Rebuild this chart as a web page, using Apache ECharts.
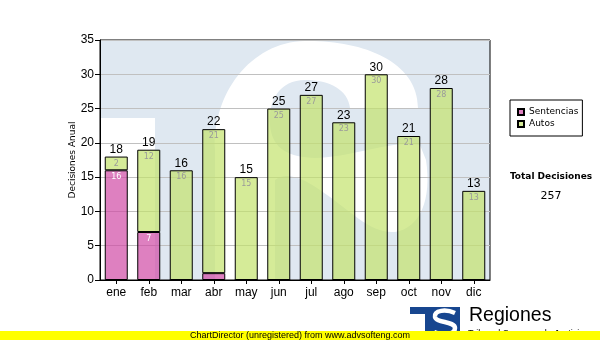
<!DOCTYPE html>
<html>
<head>
<meta charset="utf-8">
<script src="https://cdn.jsdelivr.net/npm/echarts@6/dist/echarts.min.js"></script>
<style>
  html, body { margin: 0; padding: 0; background: #fff; }
  #chart { width: 600px; height: 340px; }
</style>
</head>
<body>
<div id="chart"></div>
<script>
// Monthly decisions, stacked by type
const months = ['ene', 'feb', 'mar', 'abr', 'may', 'jun', 'jul', 'ago', 'sep', 'oct', 'nov', 'dic'];
const sentencias = [16, 7, 0, 1, 0, 0, 0, 0, 0, 0, 0, 0];
const autos = [2, 12, 16, 21, 15, 25, 27, 23, 30, 21, 28, 13];
const yMin = 0, yMax = 35, yStep = 5;
const seriesNames = ['Sentencias', 'Autos'];
const axisTitle = 'Decisiones Anual';
const totalTitle = 'Total Decisiones';
const footerText = 'ChartDirector (unregistered) from www.advsofteng.com';

const totals = months.map((_, i) => sentencias[i] + autos[i]);
const grandTotal = totals.reduce((a, b) => a + b, 0);

const SANS = '"Liberation Sans", Arial, sans-serif';
const VERD = '"DejaVu Sans", Verdana, sans-serif';

// custom path shapes for the watermark letter and the small logo letter
echarts.graphic.registerShape('wmLetter', echarts.graphic.extendPath(
  'M 215 280 L 215 150 C 212 95 250 42 305 41 C 360 40 418 60 418 108 L 350 108 ' +
  'C 348 90 330 80 305 80 C 280 80 268 100 270 125 C 272 150 290 157 315 158 ' +
  'C 350 158 390 140 420 145 L 426 160 C 432 200 420 228 395 232 ' +
  'C 370 234 350 210 320 190 C 300 176 285 172 275 180 L 275 280 Z', {}));
echarts.graphic.registerShape('logoLetter', echarts.graphic.extendPath(
  'M 455 313 C 446 309 434 310 435 317 C 436 323 455 321 455 328 C 455 335 442 336 434 332', {}));

const chart = echarts.init(document.getElementById('chart'), null, { renderer: 'canvas' });

// faint logo watermark behind the plot
const watermark = [
  { type: 'rect', z: -10, silent: true, shape: { x: 100, y: 40, width: 390, height: 240 }, style: { fill: '#dfe8f1' } },
  { type: 'rect', z: -10, silent: true, shape: { x: 100, y: 118, width: 55, height: 162 }, style: { fill: '#ffffff' } },
  { type: 'wmLetter', z: -10, silent: true, style: { fill: '#ffffff' } }
];

// logo in the lower right corner
const logo = [
  { type: 'polygon', z: 50, silent: true,
    shape: { points: [[410, 307], [460, 307], [460, 340], [425, 340], [425, 314], [410, 314]] },
    style: { fill: '#17468f' } },
  { type: 'logoLetter', z: 51, silent: true,
    style: { fill: 'none', stroke: '#ffffff', lineWidth: 4.5 } },
  { type: 'text', z: 50, silent: true, x: 469, y: 316,
    style: { text: 'Regiones', font: '19.5px ' + SANS, fill: '#000', textVerticalAlign: 'middle' } },
  { type: 'text', z: 50, silent: true, x: 468, y: 329,
    style: { text: 'Tribunal Supremo de Justicia', font: '9px ' + SANS, fill: '#000', textVerticalAlign: 'top' } }
];

const extras = [
  { type: 'text', silent: true, x: 73, y: 160, rotation: Math.PI / 2,
    style: { text: axisTitle, font: '9px ' + VERD, fill: '#000', textAlign: 'center', textVerticalAlign: 'middle' } },
  { type: 'text', silent: true, x: 551, y: 177,
    style: { text: totalTitle, font: 'bold 9px ' + VERD, fill: '#000', textAlign: 'center', textVerticalAlign: 'middle' } },
  { type: 'text', silent: true, x: 551, y: 196,
    style: { text: String(grandTotal), font: '11px ' + VERD, fill: '#000', textAlign: 'center', textVerticalAlign: 'middle' } },
  { type: 'rect', z: 100, silent: true, shape: { x: 0, y: 331, width: 600, height: 9 }, style: { fill: '#ffff00' } },
  { type: 'text', z: 101, silent: true, x: 300, y: 335.5,
    style: { text: footerText, font: '9px ' + SANS, fill: '#000', textAlign: 'center', textVerticalAlign: 'middle' } }
];

const segLabel = (color) => ({
  show: true, position: 'insideTop', distance: 3,
  fontFamily: VERD, fontSize: 8, color: color,
  formatter: p => (p.value >= 2 ? String(p.value) : '')
});

chart.setOption({
  animation: false,
  backgroundColor: '#ffffff',
  grid: { left: 100, right: 110, top: 40, bottom: 60, show: true, borderColor: '#000', borderWidth: 1,
          backgroundColor: 'transparent', containLabel: false },
  legend: {
    data: seriesNames, orient: 'vertical', left: 510, top: 100,
    padding: [6, 4, 6, 7], itemGap: 0, itemWidth: 6, itemHeight: 6, icon: 'rect',
    borderColor: '#000', borderWidth: 1, borderRadius: 0, backgroundColor: '#fff',
    textStyle: { fontFamily: VERD, fontSize: 9, color: '#000', lineHeight: 12 }
  },
  xAxis: {
    type: 'category', data: months,
    axisLine: { lineStyle: { color: '#000', width: 1 } },
    axisTick: { show: true, alignWithLabel: true, length: 4, lineStyle: { color: '#000' } },
    axisLabel: { fontFamily: SANS, fontSize: 12, color: '#000', margin: 7 },
    splitLine: { show: false }
  },
  yAxis: {
    type: 'value', min: yMin, max: yMax, interval: yStep,
    axisLine: { show: true, lineStyle: { color: '#000', width: 1 } },
    axisTick: { show: true, length: 5, lineStyle: { color: '#000' } },
    axisLabel: { fontFamily: SANS, fontSize: 12, color: '#000', margin: 6 },
    splitLine: { show: true, lineStyle: { color: '#c0c0c0', width: 1 } }
  },
  series: [
    { name: seriesNames[0], type: 'bar', stack: 'decisiones', data: sentencias,
      barWidth: 23, barGap: '-100%',
      itemStyle: { color: 'rgba(208,74,165,0.7)', borderColor: '#000', borderWidth: 1 },
      label: segLabel('#ffffff') },
    { name: seriesNames[1], type: 'bar', stack: 'decisiones', data: autos,
      barWidth: 23, barGap: '-100%',
      itemStyle: { color: 'rgba(195,226,108,0.7)', borderColor: '#000', borderWidth: 1 },
      label: segLabel('#9a9a9a') },
    { name: 'Total', type: 'bar', data: totals, barWidth: 23, barGap: '-100%', silent: true, z: 1,
      itemStyle: { color: 'rgba(0,0,0,0)' },
      label: { show: true, position: 'top', distance: 1, fontFamily: SANS, fontSize: 12, color: '#000' } }
  ],
  graphic: watermark.concat(logo, extras)
});
</script>
</body>
</html>
